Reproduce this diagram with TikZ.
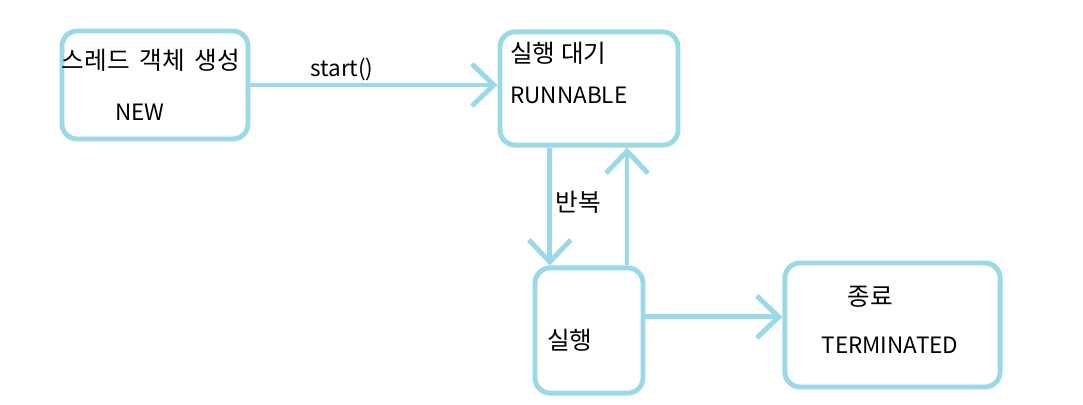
\documentclass[tikz,border=0pt]{standalone}
\usepackage{fontspec}
\setmainfont{Noto Sans CJK KR}
\usetikzlibrary{arrows.meta}
\definecolor{stateblue}{RGB}{155,216,232}

\begin{document}
\begin{tikzpicture}[
    x=0.025cm, y=-0.025cm,
    font=\fontsize{16}{19}\selectfont,
    state/.style={rectangle, rounded corners=0.38cm, draw=stateblue, line width=3.5pt, fill=white, inner sep=0pt},
    label/.style={inner sep=0pt, text=black},
    krlabel/.style={label, font=\fontsize{17.5}{20}\selectfont},
    arrow/.style={draw=stateblue, line width=3.5pt, -{Straight Barb[length=0.55cm, width=1.05cm, line cap=butt]}}
]
\useasboundingbox (0,0) rectangle (1083,405);

% --- Nodes ---
% State boxes
\node (new) at (155, 85) [state, minimum width=4.65cm, minimum height=2.7cm] {};
\node (runnable) at (589, 88.5) [state, minimum width=4.45cm, minimum height=2.83cm] {};
\node (running) at (589, 330.5) [state, minimum width=2.7cm, minimum height=3.13cm] {};
\node (terminated) at (892.5, 325) [state, minimum width=5.38cm, minimum height=3.1cm] {};

% Texts inside the boxes
\node (newkr) at (151, 60) [krlabel] {스레드\hspace{0.4em}객체\hspace{0.4em}생성};
\node (newen) at (140, 112) [label] {NEW};
\node (runnablekr) at (510, 53) [krlabel, anchor=west] {실행 대기};
\node (runnableen) at (510, 95) [label, anchor=west] {RUNNABLE};
\node (runningkr) at (547, 340) [krlabel, anchor=west] {실행};
\node (terminatedkr) at (870, 297) [krlabel] {종료};
\node (terminateden) at (890, 345) [label] {TERMINATED};

% Edge labels
\node (startlbl) at (342, 70) [label] {start()};
\node (looplbl) at (578, 202) [krlabel] {반복};

% --- Edges ---
\draw [arrow] (new.east) -- (new.east -| runnable.west);
\draw [arrow] ([xshift=-0.98cm]runnable.south) -- ([xshift=-0.98cm]runnable.south |- running.north);
\draw [arrow] ([xshift=0.95cm]running.north) -- ([xshift=0.95cm]running.north |- runnable.south);
\draw [arrow] ([yshift=0.34cm]running.east) -- ([yshift=0.34cm]running.east -| terminated.west);

\end{tikzpicture}
\end{document}
